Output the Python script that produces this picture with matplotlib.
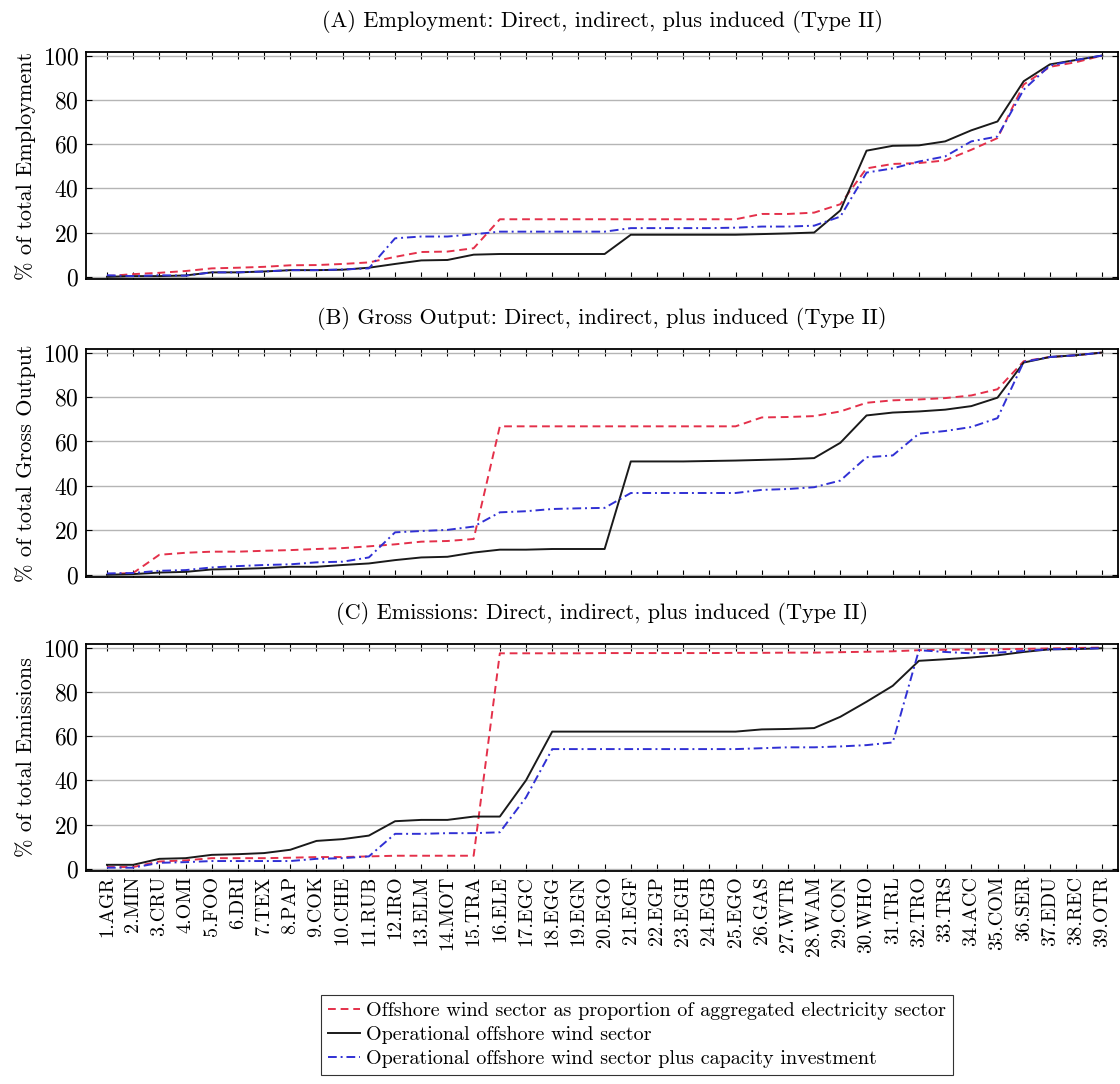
import matplotlib
matplotlib.use("Agg")
import matplotlib.pyplot as plt

# sector labels on the x axis
sectors = [
    "1.AGR", "2.MIN", "3.CRU", "4.OMI", "5.FOO", "6.DRI", "7.TEX", "8.PAP",
    "9.COK", "10.CHE", "11.RUB", "12.IRO", "13.ELM", "14.MOT", "15.TRA",
    "16.ELE", "17.EGC", "18.EGG", "19.EGN", "20.EGO", "21.EGF", "22.EGP",
    "23.EGH", "24.EGB", "25.EGO", "26.GAS", "27.WTR", "28.WAM", "29.CON",
    "30.WHO", "31.TRL", "32.TRO", "33.TRS", "34.ACC", "35.COM", "36.SER",
    "37.EDU", "38.REC", "39.OTR",
]

# (A) Employment, cumulative %
emp_agg = [0.3, 1.2, 1.8, 2.6, 3.8, 4.1, 4.5, 5.2, 5.3, 5.8, 6.5, 9.0, 11.2,
           11.4, 12.9, 26.0, 26.0, 26.0, 26.0, 26.0, 26.0, 26.0, 26.0, 26.0,
           26.0, 28.4, 28.4, 29.0, 32.8, 49.0, 51.0, 51.4, 52.6, 57.4, 62.7,
           86.9, 94.9, 97.0, 100.0]
emp_op = [0.0, 0.3, 0.3, 0.6, 2.0, 2.0, 2.4, 3.0, 3.0, 3.2, 4.1, 5.8, 7.4,
          7.6, 10.0, 10.3, 10.3, 10.3, 10.3, 10.3, 19.0, 19.0, 19.0, 19.0,
          19.0, 19.3, 19.6, 20.0, 30.0, 57.0, 59.2, 59.4, 61.2, 66.2, 70.2,
          88.4, 96.0, 98.0, 100.0]
emp_inv = [0.7, 0.3, 0.7, 0.5, 2.0, 2.0, 2.4, 3.0, 3.0, 3.3, 3.8, 17.4, 18.2,
           18.2, 19.2, 20.4, 20.4, 20.4, 20.4, 20.4, 22.0, 22.0, 22.0, 22.0,
           22.2, 22.7, 22.7, 23.1, 27.2, 47.1, 49.0, 52.1, 54.4, 61.2, 63.4,
           84.6, 95.5, 98.0, 100.0]

# (B) Gross output, cumulative %
out_agg = [0.3, 0.8, 9.0, 9.9, 10.4, 10.4, 10.8, 11.1, 11.6, 12.0, 12.8, 13.7,
           14.9, 15.2, 16.1, 66.8, 66.8, 66.8, 66.8, 66.8, 66.8, 66.8, 66.8,
           66.8, 66.8, 70.8, 71.0, 71.4, 73.5, 77.4, 78.5, 78.9, 79.5, 80.7,
           83.5, 96.1, 98.0, 98.8, 100.0]
out_op = [0.0, 0.3, 1.0, 1.3, 2.4, 2.6, 3.0, 3.6, 3.6, 4.4, 5.1, 6.6, 7.8,
          8.1, 10.0, 11.3, 11.3, 11.6, 11.6, 11.6, 51.0, 51.0, 51.0, 51.2,
          51.4, 51.7, 52.0, 52.5, 59.4, 71.7, 73.0, 73.5, 74.3, 75.9, 79.7,
          95.5, 98.0, 98.8, 100.0]
out_inv = [0.6, 0.8, 1.8, 2.1, 3.3, 3.9, 4.4, 4.7, 5.6, 5.9, 7.8, 19.1, 19.7,
           20.2, 21.7, 28.1, 28.6, 29.6, 29.9, 30.1, 36.8, 36.8, 36.8, 36.8,
           36.8, 38.2, 38.6, 39.4, 42.4, 52.9, 53.7, 63.5, 64.7, 66.5, 70.5,
           95.8, 98.0, 98.8, 100.0]

# (C) Emissions, cumulative %
ems_agg = [0.8, 0.8, 3.3, 3.8, 4.8, 4.8, 4.8, 5.0, 5.3, 5.3, 5.6, 5.9, 5.9,
           5.9, 5.9, 97.4, 97.4, 97.4, 97.4, 97.5, 97.5, 97.5, 97.5, 97.5,
           97.6, 97.6, 97.7, 97.7, 97.9, 98.1, 98.3, 98.8, 99.0, 99.1, 99.2,
           99.4, 99.6, 99.8, 100.0]
ems_op = [1.8, 1.8, 4.5, 4.8, 6.3, 6.6, 7.1, 8.6, 12.6, 13.4, 15.0, 21.5, 22.1,
          22.1, 23.6, 23.6, 40.0, 62.0, 62.0, 62.0, 62.0, 62.0, 62.0, 62.0,
          62.0, 63.0, 63.2, 63.6, 68.7, 75.5, 82.7, 94.0, 94.7, 95.5, 96.5,
          98.0, 99.2, 99.3, 99.7]
ems_inv = [0.5, 0.5, 2.7, 3.0, 3.5, 3.5, 3.5, 3.5, 4.5, 4.8, 5.6, 15.8, 15.8,
           16.1, 16.1, 16.5, 32.3, 54.1, 54.1, 54.1, 54.1, 54.1, 54.1, 54.1,
           54.1, 54.5, 54.9, 54.9, 55.3, 55.9, 57.1, 98.8, 98.0, 97.4, 97.7,
           98.5, 99.2, 99.4, 99.7]

panel_titles = [
    "(A) Employment: Direct, indirect, plus induced (Type II)",
    "(B) Gross Output: Direct, indirect, plus induced (Type II)",
    "(C) Emissions: Direct, indirect, plus induced (Type II)",
]
y_labels = ["% of total Employment", "% of total Gross Output",
            "% of total Emissions"]
legend_labels = [
    "Offshore wind sector as proportion of aggregated electricity sector",
    "Operational offshore wind sector",
    "Operational offshore wind sector plus capacity investment",
]

plt.rcParams["font.family"] = ["cmr10", "DejaVu Serif"]
plt.rcParams["axes.formatter.use_mathtext"] = True
plt.rcParams["mathtext.fontset"] = "cm"

RED = "#e4304a"
BLACK = "#1a1a1a"
BLUE = "#3030d4"

fig = plt.figure(figsize=(11.2, 10.84), dpi=100)

# axes boxes in pixels: (top, bottom)
left_px, right_px = 86, 1118
rows_px = [(52, 279), (349, 577), (644, 871)]
x = list(range(1, len(sectors) + 1))
panels = [(emp_agg, emp_op, emp_inv), (out_agg, out_op, out_inv),
          (ems_agg, ems_op, ems_inv)]

handles = None
for k, ((top, bot), series) in enumerate(zip(rows_px, panels)):
    ax = fig.add_axes([left_px / 1120, 1 - bot / 1084,
                       (right_px - left_px) / 1120, (bot - top) / 1084])
    agg, op, inv = series
    h1, = ax.plot(x, agg, color=RED, ls=(0, (4, 2.5)), lw=1.4, zorder=3)
    h2, = ax.plot(x, op, color=BLACK, ls="-", lw=1.4, zorder=3)
    h3, = ax.plot(x, inv, color=BLUE, ls=(0, (4.5, 2, 1, 2)), lw=1.4, zorder=3)
    handles = [h1, h2, h3]

    ax.set_xlim(0.2, 39.6)
    ax.set_ylim(-1, 101.6)
    ax.set_yticks([0, 20, 40, 60, 80, 100])
    ax.yaxis.grid(True, color="#b5b5b5", lw=1.0)
    ax.set_axisbelow(True)
    ax.set_xticks(x)
    if k == 2:
        ax.set_xticklabels(sectors, rotation=90, fontsize=14.5)
    else:
        ax.set_xticklabels([])
    ax.tick_params(axis="x", direction="in", top=True, length=5, width=0.8)
    ax.tick_params(axis="y", direction="in", right=True, length=4, width=0.8,
                   labelsize=17, pad=5)
    for s in ax.spines.values():
        s.set_linewidth(1.3)
    ax.set_ylabel(y_labels[k], fontsize=16, labelpad=5)
    ax.set_title(panel_titles[k], fontsize=16, pad=18)

leg = fig.legend(handles, legend_labels, loc="lower left",
                 bbox_to_anchor=(321 / 1120, 9 / 1084), borderaxespad=0,
                 fontsize=14.5, frameon=True, fancybox=False,
                 edgecolor="black", handlelength=1.6, handletextpad=0.3,
                 borderpad=0.35, labelspacing=0.28)
leg.get_frame().set_linewidth(0.8)

fig.savefig("out.png", dpi=100)
